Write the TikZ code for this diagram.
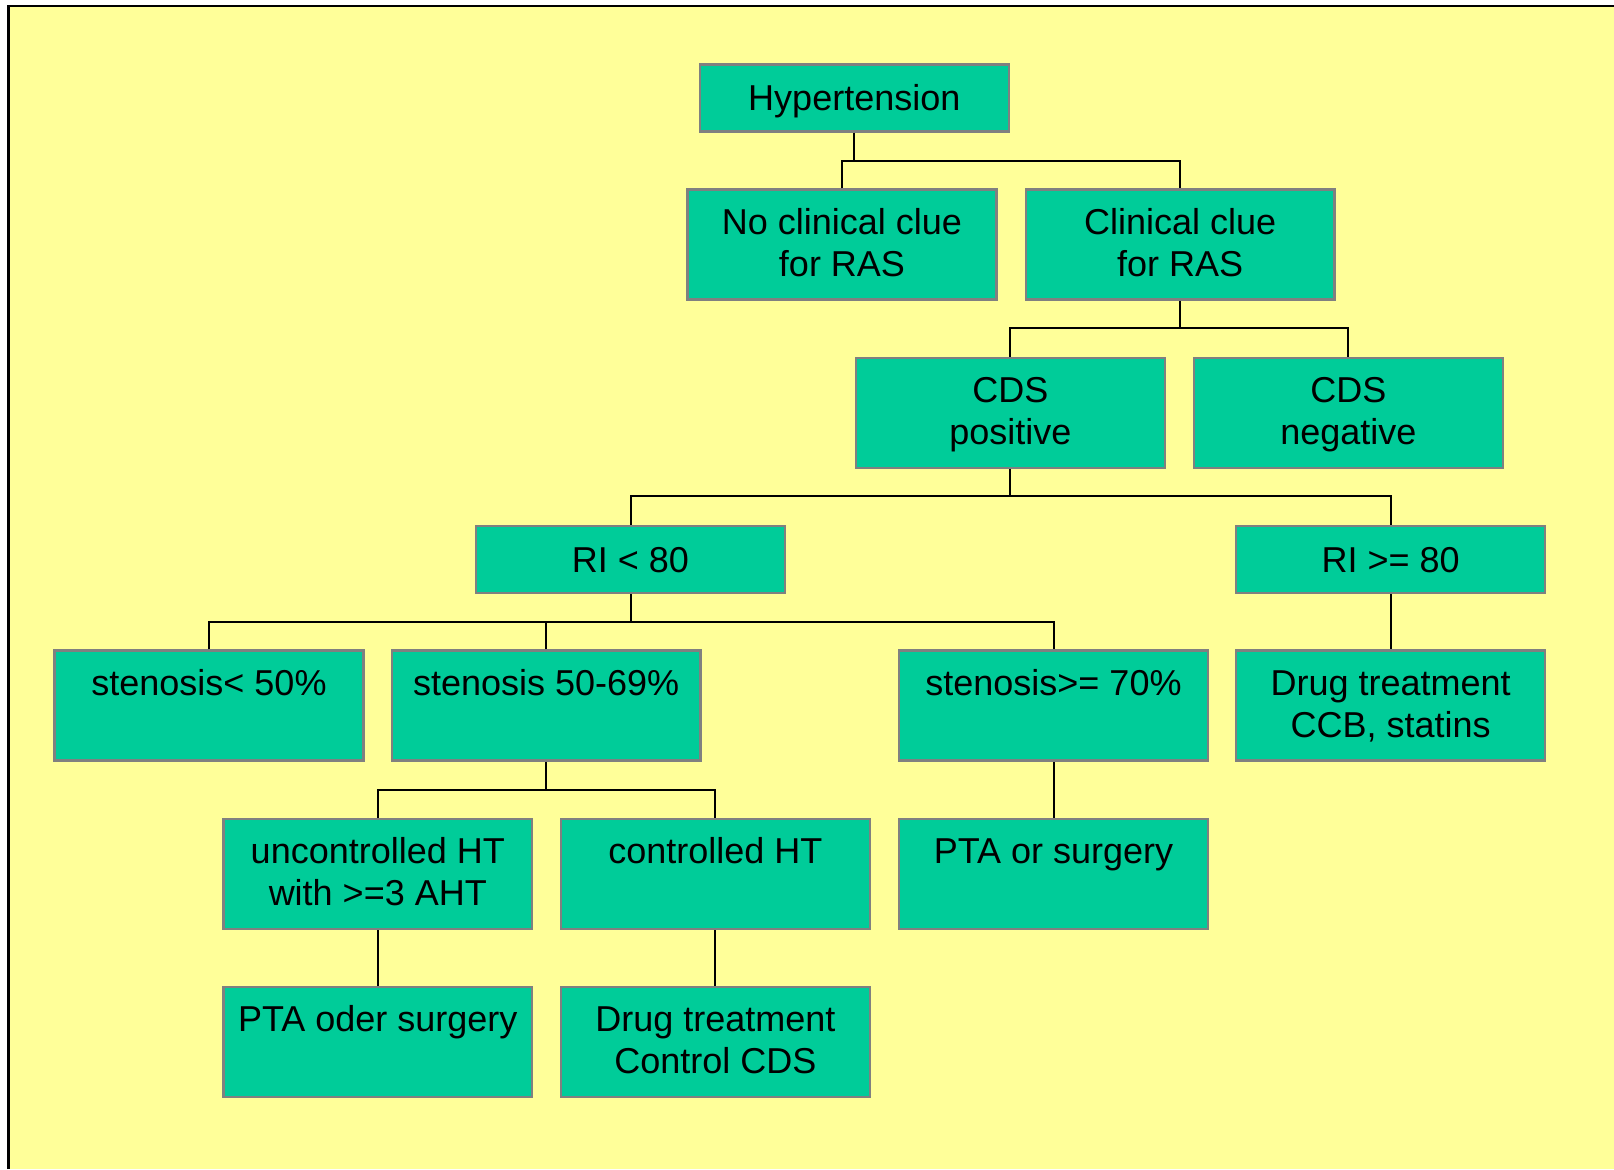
\documentclass[tikz,border=0pt]{standalone}
\usepackage{fontspec}
\setmainfont{Liberation Sans}
\definecolor{bgyellow}{HTML}{FFFF99}
\definecolor{boxteal}{HTML}{00CC99}
\definecolor{boxgray}{HTML}{808080}
\newcommand{\talltext}[1]{\parbox[c][55pt][t]{154pt}{\centering\rule{0pt}{22.3pt}#1}}
\begin{document}
\begin{tikzpicture}[x=0.5pt,y=-0.5pt,
  base/.style={draw=boxgray, line width=1.2pt, fill=boxteal, inner sep=0pt, font=\fontsize{18}{21.2}\selectfont},
  shortbox/.style={base, minimum width=154.4pt, minimum height=33.5pt, text height=12.9pt, text depth=0pt},
  tallbox/.style={base, minimum width=154.4pt, minimum height=55pt},
  conn/.style={draw=black, line width=1pt}]
\useasboundingbox (0,0) rectangle (1614,1169);
\fill[white] (0,0) rectangle (1614,1169);
\fill[bgyellow] (8.5,6) rectangle (1614,1169);
\draw[black, line width=1.1pt] (8.5,1169) -- (8.5,6) -- (1614,6);

\node[shortbox] (hyp) at (854.3,97.8) {Hypertension};
\node[tallbox] (noclue) at (842,244.5) {\talltext{No clinical clue\\for RAS}};
\node[tallbox] (clue) at (1180.1,244.5) {\talltext{Clinical clue\\for RAS}};
\node[tallbox] (cdspos) at (1010.3,412.7) {\talltext{CDS\\positive}};
\node[tallbox] (cdsneg) at (1348.4,412.7) {\talltext{CDS\\negative}};
\node[shortbox] (ri1) at (630.5,559.4) {RI < 80};
\node[shortbox] (ri2) at (1390.6,559.4) {RI >= 80};
\node[tallbox] (st1) at (209,705.6) {\talltext{stenosis< 50\%}};
\node[tallbox] (st2) at (546.1,705.6) {\talltext{stenosis 50-69\%}};
\node[tallbox] (st3) at (1053.5,705.6) {\talltext{stenosis>= 70\%}};
\node[tallbox] (drug1) at (1390.6,705.6) {\talltext{Drug treatment\\CCB, statins}};
\node[tallbox] (unc) at (377.8,873.9) {\talltext{uncontrolled HT\\with >=3 AHT}};
\node[tallbox] (ctr) at (715.4,873.9) {\talltext{controlled HT}};
\node[tallbox] (pta1) at (1053.5,873.9) {\talltext{PTA or surgery}};
\node[tallbox] (pta2) at (377.8,1041.7) {\talltext{PTA oder surgery}};
\node[tallbox] (drug2) at (715.4,1041.7) {\talltext{Drug treatment\\Control CDS}};

\coordinate (b1) at (0,160.6);
\coordinate (b2) at (0,328.3);
\coordinate (b3) at (0,496.1);
\coordinate (b4) at (0,621.7);
\coordinate (b5) at (0,789.5);

\draw[conn] (hyp.south) -- (hyp.south |- b1);
\draw[conn] (noclue.north) |- (clue.north |- b1) -- (clue.north);
\draw[conn] (clue.south) -- (clue.south |- b2);
\draw[conn] (cdspos.north) |- (cdsneg.north |- b2) -- (cdsneg.north);
\draw[conn] (cdspos.south) -- (cdspos.south |- b3);
\draw[conn] (ri1.north) |- (ri2.north |- b3) -- (ri2.north);
\draw[conn] (ri1.south) -- (ri1.south |- b4);
\draw[conn] (st1.north) |- (st3.north |- b4) -- (st3.north);
\draw[conn] (st2.north) -- (st2.north |- b4);
\draw[conn] (ri2.south) -- (drug1.north);
\draw[conn] (st2.south) -- (st2.south |- b5);
\draw[conn] (unc.north) |- (ctr.north |- b5) -- (ctr.north);
\draw[conn] (st3.south) -- (pta1.north);
\draw[conn] (unc.south) -- (pta2.north);
\draw[conn] (ctr.south) -- (drug2.north);
\end{tikzpicture}
\end{document}
